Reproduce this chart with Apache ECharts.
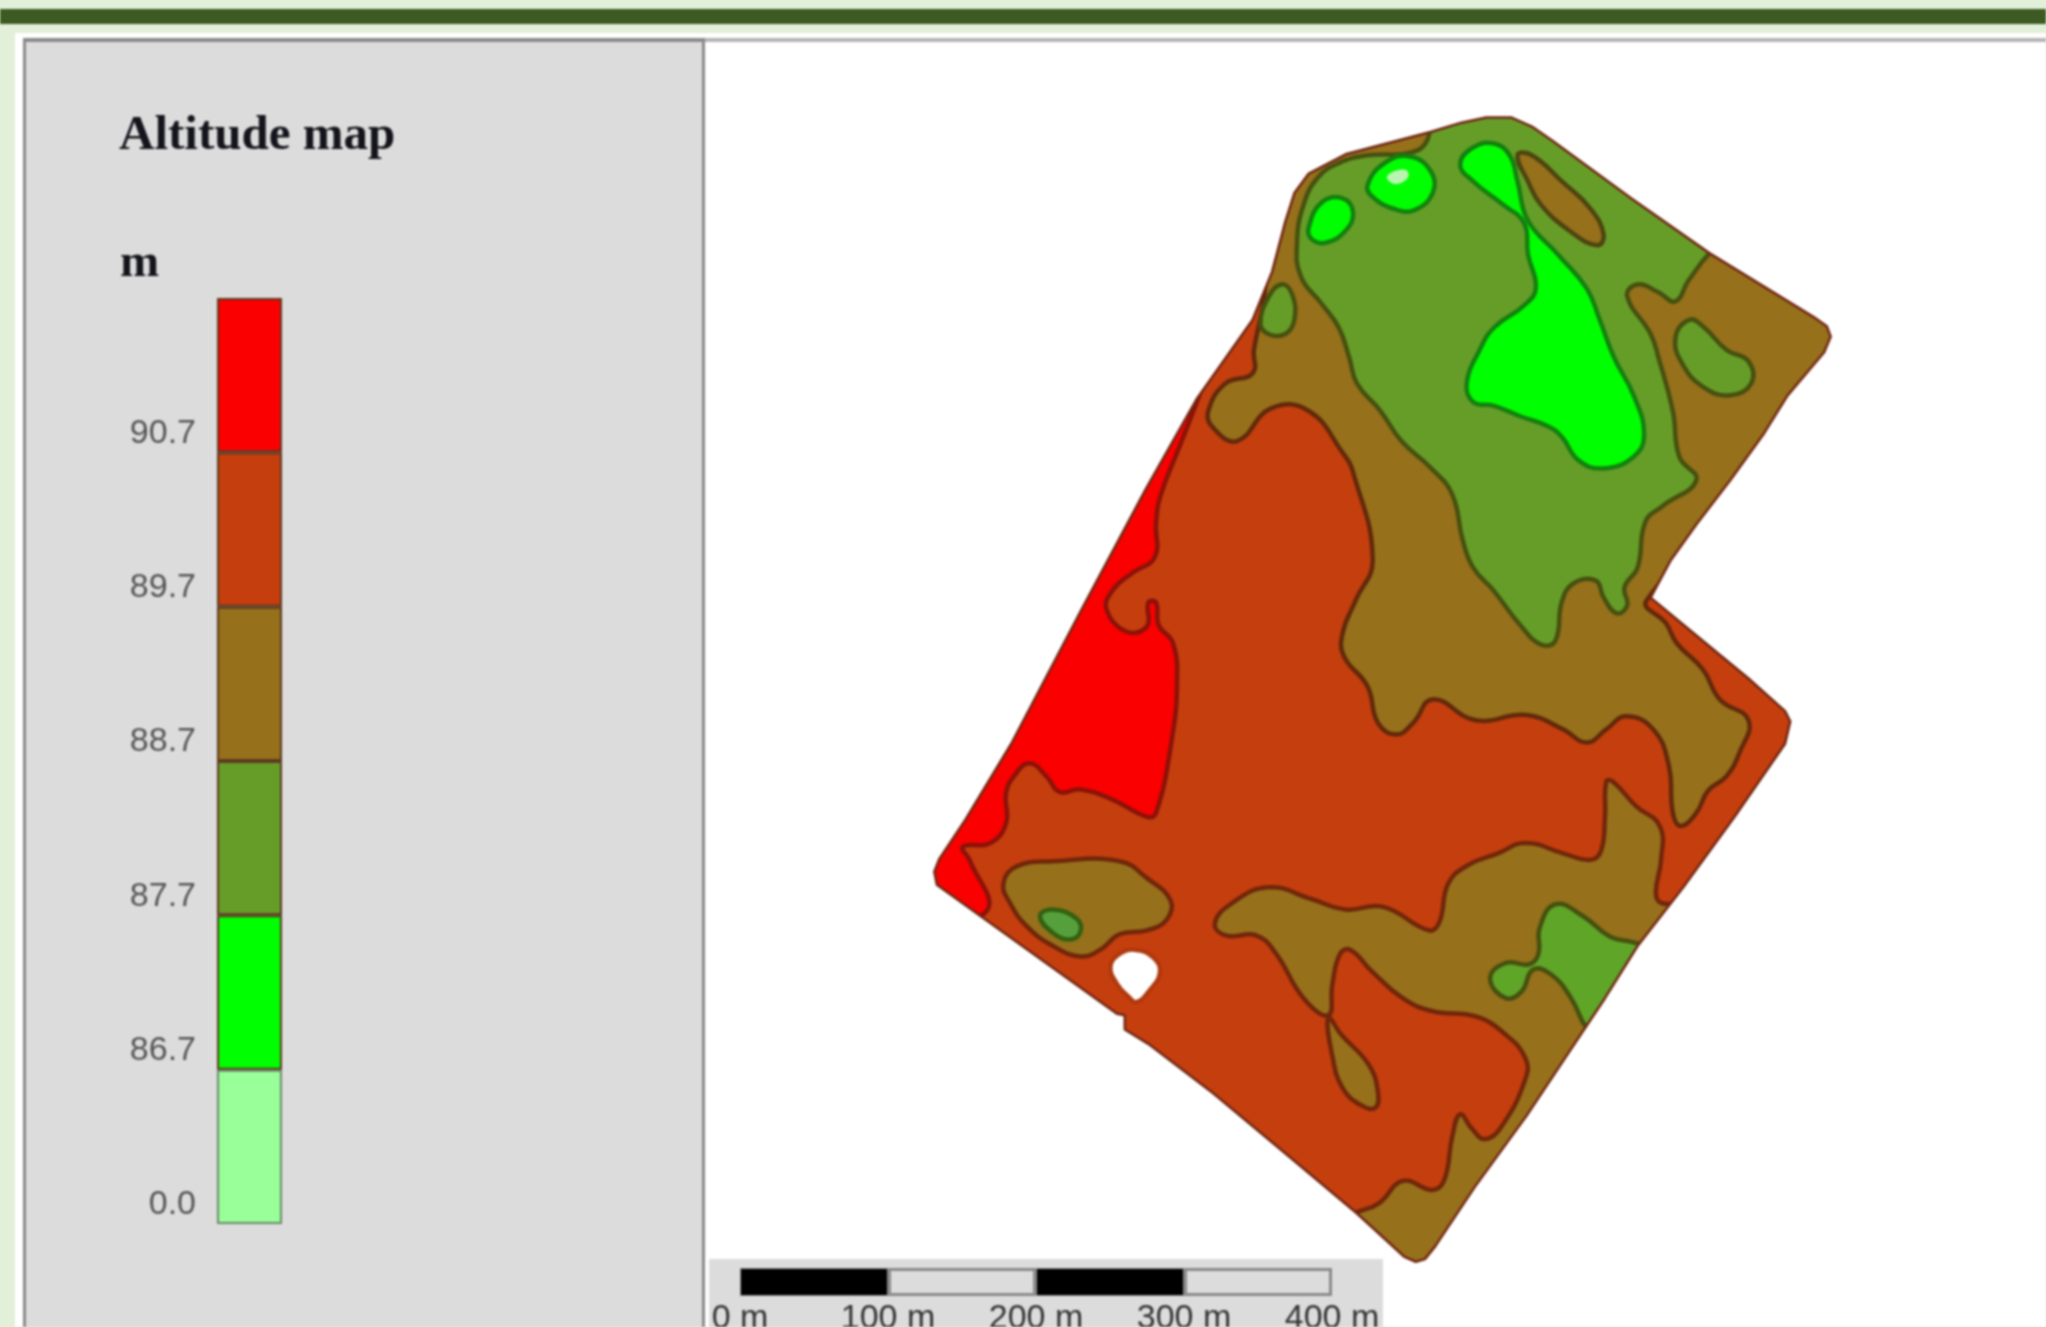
<!DOCTYPE html>
<html><head><meta charset="utf-8">
<script src="https://cdn.jsdelivr.net/npm/echarts@6/dist/echarts.min.js"></script>
<style>html,body{margin:0;padding:0;background:#e2efd9}#c{width:2046px;height:1327px;filter:blur(.8px)}</style>
</head><body><div id="c"></div>
<script>
// Legend
const bandLabels = ['0.0','86.7','87.7','88.7','89.7','90.7',''];
const bandColors = ['#99ff99','#00ff00','#669d28','#96701b','#c53e0e','#fb0000'];
const bandSizes = [1,1,1,1,1,1];
// Scale bar
const scaleSegments = [100,100,100,100];
const scaleColors = ['#000000','#dcdcdc','#000000','#dcdcdc'];
// Map outlines (map units)
const fieldBoundary = [[1097,101],[1120,94],[1139,90],[1158,90],[1174,97],[1190,108],[1250,152],[1310,194],[1390,243],[1400,250],[1403,258],[1398,270],[1370,303],[1352,332],[1326,368],[1300,402],[1280,430],[1265,458],[1300,487],[1340,520],[1368,545],[1372,553],[1368,570],[1330,625],[1290,680],[1255,725],[1230,765],[1200,810],[1170,855],[1130,910],[1100,955],[1092,965],[1085,967],[1076,963],[1040,930],[990,888],[930,838],[880,800],[862,789],[862,778],[856,777],[718,678],[716,668],[720,658],[740,628],[775,570],[830,465],[878,375],[917,306],[960,245],[975,208],[985,170],[992,148],[1003,133],[1032,118]];
const zoneRed = [[919,303],[906,337],[889,381],[886,401],[885,427],[868,439],[853,452],[848,467],[863,484],[879,480],[880,462],[886,462],[888,479],[899,493],[902,524],[898,567],[886,623],[879,626],[853,613],[828,605],[812,607],[802,595],[789,585],[777,595],[771,608],[771,631],[759,646],[738,649],[743,659],[757,697],[720,700],[690,665],[880,290],[925,285]];
const zoneBrownUpper = [[1262,460],[1277,478],[1285,493],[1305,513],[1318,536],[1340,552],[1333,577],[1323,595],[1309,606],[1300,623],[1288,633],[1282,623],[1279,587],[1267,559],[1246,549],[1231,559],[1216,569],[1198,559],[1170,548],[1131,552],[1098,536],[1083,554],[1070,563],[1056,554],[1048,526],[1030,503],[1029,485],[1039,460],[1052,429],[1037,362],[1029,347],[1003,315],[974,313],[948,338],[929,327],[926,315],[939,294],[960,286],[961,268],[968,233],[973,190],[978,160],[985,120],[1040,85],[1140,65],[1320,170],[1425,250],[1340,385]];
const zoneGreenMain = [[1094,107],[1081,117],[1048,119],[1026,125],[1010,136],[999,157],[994,186],[997,212],[1013,233],[1026,251],[1034,274],[1040,294],[1058,315],[1074,338],[1097,359],[1113,379],[1121,414],[1129,435],[1145,453],[1165,479],[1181,494],[1192,491],[1197,461],[1206,447],[1223,445],[1229,458],[1239,470],[1247,464],[1245,450],[1255,435],[1261,400],[1274,388],[1300,368],[1287,350],[1282,315],[1271,274],[1265,256],[1247,227],[1255,218],[1271,224],[1284,231],[1294,215],[1311,193],[1335,170],[1170,70],[1100,75]];
const zoneGreenLeft = [[966,248],[972,228],[982,218],[990,225],[992,245],[985,256],[972,256]];
const zoneGreenEast = [[1284,259],[1295,245],[1306,251],[1323,268],[1340,277],[1342,294],[1326,303],[1306,297],[1290,280]];
const zoneBrownEllipse = [[1163,119],[1174,119],[1197,139],[1219,160],[1229,180],[1224,188],[1203,177],[1181,157],[1171,139]];
const zoneBrightMain = [[1119,126],[1129,113],[1145,110],[1157,119],[1163,139],[1171,169],[1194,195],[1216,221],[1226,245],[1237,274],[1252,303],[1260,333],[1252,350],[1229,359],[1210,353],[1197,335],[1187,327],[1165,319],[1145,311],[1129,308],[1124,294],[1134,268],[1145,251],[1168,234],[1177,221],[1171,195],[1168,171],[1152,157],[1129,139]];
const zoneBrightA = [[1003,174],[1013,155],[1029,152],[1037,163],[1031,177],[1016,186],[1005,183]];
const zoneBrightB = [[1048,142],[1061,125],[1081,120],[1097,132],[1098,148],[1084,161],[1068,160],[1052,151]];
const zonePale = [[1063,135],[1077,130],[1079,136],[1069,141]];
const zoneBrownOval = [[769,677],[779,664],[807,660],[858,660],[879,673],[897,690],[894,705],[879,713],[858,716],[843,728],[828,733],[807,725],[787,710],[774,692]];
const zoneGreenOval = [[797,702],[807,697],[825,704],[828,714],[820,720],[807,715]];
const zoneBrownLower = [[931,708],[943,693],[972,680],[1005,689],[1031,697],[1060,695],[1095,713],[1103,707],[1110,677],[1125,663],[1148,654],[1169,646],[1198,654],[1219,659],[1227,652],[1230,626],[1231,599],[1236,599],[1254,618],[1272,633],[1273,659],[1269,684],[1273,692],[1295,695],[1110,985],[1025,935],[1040,929],[1057,922],[1075,905],[1098,912],[1107,904],[1113,871],[1119,854],[1128,865],[1138,873],[1151,863],[1169,827],[1169,811],[1154,793],[1131,779],[1098,775],[1075,765],[1051,744],[1035,728],[1027,731],[1021,755],[1018,778],[999,765],[978,731],[963,717],[940,717]];
const zoneTeardrop = [[1018,780],[1028,793],[1049,816],[1056,837],[1054,849],[1043,847],[1029,834],[1021,809]];
const zoneGreenSE = [[1180,711],[1192,693],[1213,702],[1234,718],[1251,722],[1275,730],[1230,800],[1216,788],[1204,765],[1189,747],[1175,743],[1166,760],[1154,765],[1142,750],[1154,738],[1172,739],[1179,731]];
const hole = [[851,741],[858,731],[871,728],[884,734],[889,745],[881,759],[871,768],[865,764],[856,754]];

const ORANGE=bandColors[4],RED=bandColors[5],BROWN=bandColors[3],GREEN=bandColors[2],BRIGHT=bandColors[1];
const zones = [
 {p:fieldBoundary,fill:ORANGE,stroke:'none',sm:0},
 {p:zoneRed,fill:RED,stroke:'#8a1208'},
 {p:zoneBrownUpper,fill:BROWN,stroke:'#62290a'},
 {p:zoneGreenMain,fill:GREEN,stroke:'#46500f'},
 {p:zoneGreenLeft,fill:GREEN,stroke:'#46500f'},
 {p:zoneGreenEast,fill:GREEN,stroke:'#46500f'},
 {p:zoneBrownEllipse,fill:BROWN,stroke:'#4e4410'},
 {p:zoneBrightMain,fill:BRIGHT,stroke:'#14800f'},
 {p:zoneBrightA,fill:BRIGHT,stroke:'#14800f'},
 {p:zoneBrightB,fill:BRIGHT,stroke:'#14800f'},
 {p:zonePale,fill:'#b9f5b0',stroke:'none'},
 {p:zoneBrownOval,fill:BROWN,stroke:'#70260a'},
 {p:zoneGreenOval,fill:'#55a03c',stroke:'#336010'},
 {p:zoneBrownLower,fill:BROWN,stroke:'#70260a'},
 {p:zoneTeardrop,fill:BROWN,stroke:'#70260a'},
 {p:zoneGreenSE,fill:'#5fa528',stroke:'#46500f'},
 {p:hole,fill:'#ffffff',stroke:'#b0390e'},
 {p:fieldBoundary,fill:'none',stroke:'#702612',sm:0,lw:2.5,noClip:true}
];
const centre = p => [p.reduce((s,q)=>s+q[0],0)/p.length, p.reduce((s,q)=>s+q[1],0)/p.length];

const chart = echarts.init(document.getElementById('c'),null,{renderer:'canvas'});
const rect=(x,y,w,h,fill,z)=>({type:'rect',silent:true,z:z,shape:{x,y,width:w,height:h},style:{fill}});
chart.setOption({
 animation:false,
 backgroundColor:'#e2efd9',
 graphic:{elements:[
  rect(0,9,2046,15,'#3c5a21',-20),
  rect(15,33,2031,1294,'#ffffff',-20),
  rect(23,38,2023,4,'#b4b4b4',-19),
  rect(25,40,678,1287,'#dcdcdc',-18),
  rect(23,38,3,1289,'#8a8a8a',-17),
  rect(23,38,681,4,'#8a8a8a',-17),
  rect(702,38,3,1289,'#8a8a8a',-17),
  rect(709,1259,674,68,'#dcdcdc',-16)
 ]},
 title:[
  {text:'Altitude map',left:119,top:112,textStyle:{fontFamily:'Liberation Serif',fontWeight:'bold',fontSize:49,color:'#14141c'},padding:0},
  {text:'m',left:120,top:240,textStyle:{fontFamily:'Liberation Serif',fontWeight:'bold',fontSize:47,color:'#14141c'},padding:0}
 ],
 grid:[
  {left:0,top:0,width:2046,height:1327,outerBoundsMode:'none'},
  {left:217,top:298,width:65,height:926,outerBoundsMode:'none'},
  {left:740,top:1268,width:592,height:28,outerBoundsMode:'none'}
 ],
 xAxis:[
  {gridIndex:0,type:'value',min:0,max:1568,show:false},
  {gridIndex:1,type:'category',data:['m'],show:false},
  {gridIndex:2,type:'value',min:0,max:400,interval:100,
   axisLine:{show:false},axisTick:{show:false},splitLine:{show:false},
   axisLabel:{margin:6,formatter:v=>v+' m',fontFamily:'Liberation Sans',fontSize:34,color:'#333333',showMinLabel:true,showMaxLabel:true}}
 ],
 yAxis:[
  {gridIndex:0,type:'value',min:0,max:1017,inverse:true,show:false},
  {gridIndex:1,type:'value',min:0,max:6,interval:1,
   axisLine:{show:false},axisTick:{show:false},splitLine:{show:false},
   axisLabel:{margin:21,verticalAlign:'bottom',lineHeight:38,formatter:v=>bandLabels[v],fontFamily:'Liberation Sans',fontSize:34,color:'#555555',showMinLabel:true,showMaxLabel:true}},
  {gridIndex:2,type:'category',data:['scale'],show:false}
 ],
 series:[
  {type:'custom',xAxisIndex:0,yAxisIndex:0,coordinateSystem:'cartesian2d',clip:false,silent:true,
   data:zones.map(z=>centre(z.p)),
   renderItem:(params,api)=>{
    const z=zones[params.dataIndex];
    const px=p=>p.map(q=>api.coord(q));
    const el={type:'polygon',shape:{points:px(z.p),smooth:z.sm===0?0:0.45},
      style:{fill:z.fill,stroke:z.stroke,lineWidth:z.lw||4.5,lineJoin:'round'}};
    if(!z.noClip) el.clipPath={type:'polygon',shape:{points:px(fieldBoundary)}};
    return el;
   }},
  ...bandSizes.map((v,i)=>({type:'bar',xAxisIndex:1,yAxisIndex:1,stack:'legend',barWidth:'100%',data:[v],silent:true,
    itemStyle:{color:bandColors[i],borderColor:i===0?'#6a8a6a':'#5c3a20',borderWidth:2}})),
  ...scaleSegments.map((v,i)=>({type:'bar',xAxisIndex:2,yAxisIndex:2,stack:'scale',barWidth:'100%',data:[v],silent:true,
    itemStyle:{color:scaleColors[i],borderColor:'#8a8a8a',borderWidth:i%2?3:1}}))
 ]
});
</script></body></html>
